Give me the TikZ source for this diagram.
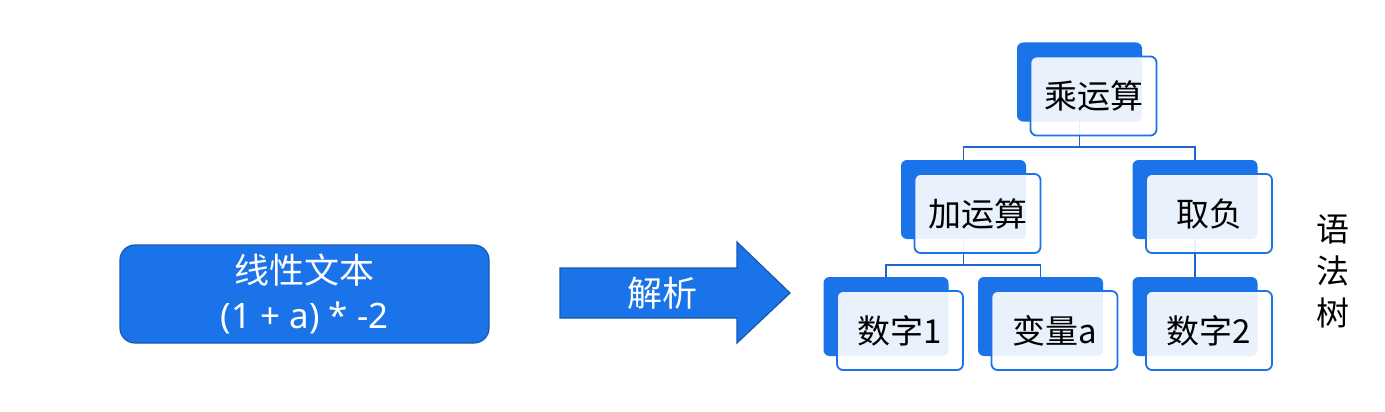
\documentclass[tikz,border=0pt]{standalone}
\usepackage{fontspec}
\setmainfont{Noto Sans CJK SC}
\newfontfamily\latinfont{Noto Sans}
\definecolor{treeblue}{HTML}{1A73E8}
\definecolor{edgeblue}{HTML}{1558B0}
\definecolor{linkblue}{HTML}{1E66CC}
\tikzset{
  backbox/.style={fill=treeblue, rounded corners=6pt, minimum width=125pt, minimum height=79pt, inner sep=0pt},
  frontbox/.style={draw=treeblue, line width=1.8pt, fill=white, fill opacity=0.9, text opacity=1,
    rounded corners=6pt, minimum width=126pt, minimum height=79pt, inner sep=0pt,
    font=\fontsize{33}{36}\selectfont},
  link/.style={draw=linkblue, line width=1.8pt}
}
\begin{document}
\begin{tikzpicture}[x=1pt,y=-1pt]
                \useasboundingbox (0,0) rectangle (1385,412);

                % linear text and arrow
                \node[fill=treeblue, draw=edgeblue, line width=1.2pt, rounded corners=15pt,
                      minimum width=369pt, minimum height=98pt, align=center, text=white,
                      font=\fontsize{35}{45}\selectfont] (src) at (304.5,294) {线性文本\\{\latinfont(1 + a) * -2}};
                \filldraw[fill=treeblue, draw=edgeblue, line width=1.2pt]
                    (560,268) -- (737,268) -- (737,242) -- (790,293) -- (737,343) -- (737,318) -- (560,318) -- cycle;
                \node[text=white, font=\fontsize{35}{40}\selectfont] (parse) at (662,293) {解析};

                % junctions
                \coordinate (j1) at (1079.5,147);
                \coordinate (j2) at (963.5,265);

                % back boxes
                \node[backbox] (mul) at (1079.5,82) {};
                \node[backbox] (add) at (963.5,199.5) {};
                \node[backbox] (neg) at (1195,199.5) {};
                \node[backbox] (num1) at (886,316.5) {};
                \node[backbox] (var) at (1040.5,316.5) {};
                \node[backbox] (num2) at (1195,316.5) {};

                % connectors
                \draw[link] (mul.south) -- (j1) -| (add.north);
                \draw[link] (j1) -| (neg.north);
                \draw[link] (add.south) -- (j2) -| (num1.north);
                \draw[link] (j2) -| (var.north);
                \draw[link] (neg.south) -- (num2.north);

                % front boxes
                \node[frontbox] (mulF) at (1093.5,96) {乘运算};
                \node[frontbox] (addF) at (977.5,213.5) {加运算};
                \node[frontbox] (negF) at (1209,213.5) {取负};
                \node[frontbox] (num1F) at (900,330.5) {数字1};
                \node[frontbox] (varF) at (1054.5,330.5) {变量a};
                \node[frontbox] (num2F) at (1209,330.5) {数字2};

                \node[align=center, font=\fontsize{33}{42}\selectfont] (tree) at (1333,271) {语\\法\\树};
            \end{tikzpicture}
\end{document}
